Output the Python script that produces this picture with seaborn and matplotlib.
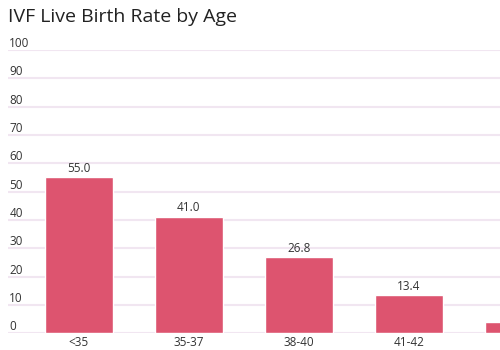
import matplotlib
matplotlib.use("Agg")
import matplotlib.pyplot as plt
import seaborn as sns
import pandas as pd

categories = ["<35", "35-37", "38-40", "41-42", ">42"]
rates = [55.0, 41.0, 26.8, 13.4, 3.9]
yticks = [0, 10, 20, 30, 40, 50, 60, 70, 80, 90, 100]
title = "IVF Live Birth Rate by Age"

bar_color = "#dd546f"
grid_color = "#f1e6f1"
text_color = "#333333"
font = "Open Sans"

sns.set_theme(style="white")
plt.rcParams["font.family"] = [font, "DejaVu Sans"]

df = pd.DataFrame({"age": categories, "rate": rates})

fig = plt.figure(figsize=(5, 3.5), dpi=100, facecolor="white")
ax = fig.add_axes([8 / 500, (350 - 333.3) / 350, 1 - 8 / 500, (333.3 - 50) / 350])
ax.set_facecolor("white")

sns.barplot(data=df, x="age", y="rate", color=bar_color, width=0.62,
            saturation=1, ax=ax, zorder=3)

ax.set_ylim(0, 100)
ax.set_xlim(-0.645, 3.83)
ax.set_yticks(yticks)
ax.set_yticklabels([str(v) for v in yticks])
ax.yaxis.grid(True, color=grid_color, linewidth=1.5, zorder=0)
ax.xaxis.grid(False)
for s in ax.spines.values():
    s.set_visible(False)
ax.set_xlabel("")
ax.set_ylabel("")
ax.tick_params(axis="y", length=0, pad=-1, labelsize=8.5, labelcolor=text_color)
ax.tick_params(axis="x", length=0, pad=2, labelsize=8.5, labelcolor=text_color)
for lbl in ax.get_yticklabels():
    lbl.set_ha("left")
    lbl.set_va("bottom")

for i, v in enumerate(rates):
    ax.annotate(f"{v:.1f}", (i, v), xytext=(0, 2), textcoords="offset points",
                ha="center", va="bottom", fontsize=8.5, color=text_color,
                clip_on=False)

fig.text(8 / 500, 1 - 17 / 350, title, fontsize=14, color="#222222",
         ha="left", va="center")

fig.savefig("out.png", dpi=100, facecolor="white")
